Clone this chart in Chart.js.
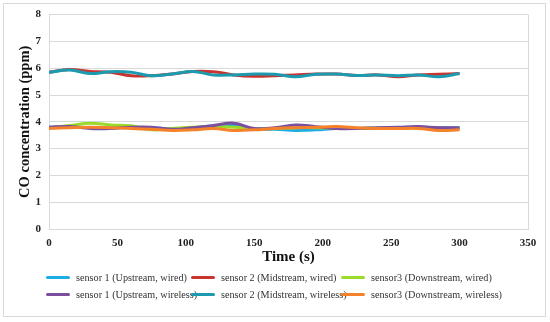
<!DOCTYPE html>
<html>
<head>
<meta charset="utf-8">
<script src="https://cdn.jsdelivr.net/npm/chart.js@4"></script>
<style>
  body { margin: 0; background: #fff; }
  #wrap { position: relative; width: 550px; height: 322px; }
  #frame { position: absolute; left: 3px; top: 3px; width: 543px; height: 314px; border: 1px solid #d9d9d9; box-sizing: border-box; }
  canvas { position: absolute; left: 0; top: 0; }
  #legend { position: absolute; left: 46px; top: 272px; display: grid;
            grid-template-columns: 145px 150px 170px; row-gap: 6px;
            font-family: "Liberation Serif", serif; font-size: 10.2px; color: #333; }
  .item { display: flex; align-items: center; white-space: nowrap; }
  .swatch { width: 24px; height: 3px; border-radius: 2px; margin-right: 6px; flex: none; }
</style>
</head>
<body>
<div id="wrap">
  <div id="frame"></div>
  <canvas id="chart" width="550" height="322"></canvas>
  <div id="legend"></div>
</div>
<script>
const timeSec = [0, 15, 30, 45, 60, 75, 90, 105, 120, 135, 150, 165, 180, 195, 210, 225, 240, 255, 270, 285, 300];

const sensor1Wired    = [3.80, 3.82, 3.78, 3.77, 3.80, 3.78, 3.73, 3.78, 3.84, 3.88, 3.72, 3.72, 3.68, 3.70, 3.75, 3.75, 3.77, 3.78, 3.80, 3.78, 3.77];
const sensor2Wired    = [5.85, 5.95, 5.88, 5.85, 5.72, 5.72, 5.78, 5.88, 5.87, 5.75, 5.70, 5.72, 5.75, 5.78, 5.78, 5.73, 5.75, 5.68, 5.75, 5.77, 5.80];
const sensor3Wired    = [3.78, 3.86, 3.95, 3.88, 3.85, 3.70, 3.75, 3.80, 3.82, 3.80, 3.75, 3.75, 3.78, 3.78, 3.76, 3.75, 3.76, 3.76, 3.78, 3.76, 3.75];
const sensor1Wireless = [3.80, 3.82, 3.75, 3.75, 3.80, 3.80, 3.72, 3.78, 3.86, 3.95, 3.75, 3.78, 3.88, 3.82, 3.75, 3.75, 3.78, 3.80, 3.82, 3.78, 3.78];
const sensor2Wireless = [5.85, 5.93, 5.80, 5.87, 5.85, 5.72, 5.78, 5.88, 5.75, 5.75, 5.78, 5.77, 5.68, 5.77, 5.78, 5.73, 5.75, 5.72, 5.75, 5.68, 5.80];
const sensor3Wireless = [3.75, 3.78, 3.80, 3.78, 3.75, 3.72, 3.68, 3.70, 3.75, 3.68, 3.70, 3.75, 3.78, 3.80, 3.82, 3.78, 3.75, 3.75, 3.75, 3.68, 3.70];

const seriesNames = [
    'sensor 1 (Upstream, wired)', 'sensor 2 (Midstream, wired)', 'sensor3 (Downstream, wired)',
    'sensor 1 (Upstream, wireless)', 'sensor 2 (Midstream, wireless)', 'sensor3 (Downstream, wireless)'
];
const seriesData = [sensor1Wired, sensor2Wired, sensor3Wired, sensor1Wireless, sensor2Wireless, sensor3Wireless];
const seriesColors = ['#1CADE4', '#C8352E', '#9ADB2A', '#7A4FA0', '#1B9AB0', '#F5822A'];

const datasets = seriesData.map((vals, i) => ({
    label: seriesNames[i],
    data: vals.map((v, j) => ({ x: timeSec[j], y: v })),
    borderColor: seriesColors[i],
    backgroundColor: seriesColors[i],
    borderWidth: 3,
    pointRadius: 0,
    tension: 0.4,
    fill: false,
    order: seriesData.length - i // later series on top, like Excel
}));

const tickFont = { family: 'Liberation Serif', size: 11, weight: 'bold' };

new Chart(document.getElementById('chart'), {
    type: 'line',
    data: { datasets: datasets },
    options: {
        responsive: false,
        animation: false,
        layout: { padding: { left: 17, right: 22, top: 14, bottom: 53 } },
        plugins: {
            legend: { display: false },
            tooltip: { enabled: false }
        },
        scales: {
            x: {
                type: 'linear',
                min: 0, max: 350,
                ticks: { stepSize: 50, color: '#222', font: tickFont, padding: 8 },
                grid: {
                    drawTicks: false,
                    color: ctx => (ctx.index === 0 || ctx.index === 7) ? '#d9d9d9' : 'rgba(0,0,0,0)'
                },
                border: { color: '#d9d9d9' },
                title: { display: true, text: 'Time (s)', color: '#111', padding: 3,
                         font: { family: 'Liberation Serif', size: 15, weight: 'bold' } },
                afterFit: scale => { scale.height = 40; }
            },
            y: {
                min: 0, max: 8,
                ticks: { stepSize: 1, color: '#222', font: tickFont, padding: 8 },
                grid: { drawTicks: false, color: '#d9d9d9' },
                border: { color: '#d9d9d9' },
                title: { display: true, text: 'CO concentration (ppm)', color: '#111', padding: 0,
                         font: { family: 'Liberation Serif', size: 14.5, weight: 'bold' } },
                afterFit: scale => { scale.width = 32; }
            }
        }
    }
});

// legend in three columns, same order as the series
const legend = document.getElementById('legend');
seriesNames.forEach((name, i) => {
    const item = document.createElement('div');
    item.className = 'item';
    item.innerHTML = `<span class="swatch" style="background:${seriesColors[i]}"></span><span>${name}</span>`;
    legend.appendChild(item);
});
</script>
</body>
</html>
